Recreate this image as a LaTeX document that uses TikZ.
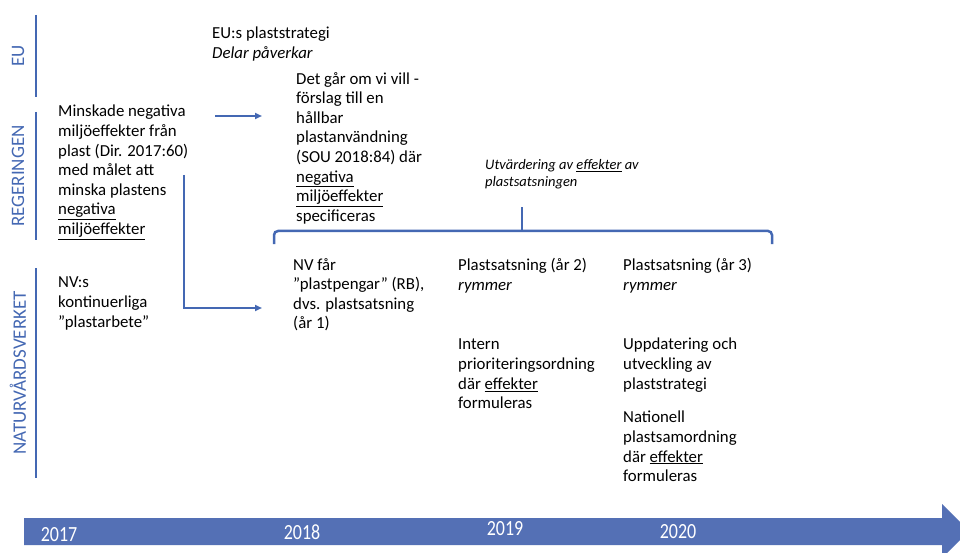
\documentclass[tikz,border=0pt]{standalone}
\usepackage{fontspec}
\setmainfont{Carlito}
\usetikzlibrary{arrows.meta}
\definecolor{lane}{RGB}{68,104,179}
\definecolor{barfill}{RGB}{84,112,181}
\begin{document}
\begin{tikzpicture}[x=1pt,y=-1pt,
  txt/.style={anchor=north west, inner sep=0pt, align=left, font=\fontsize{16.8}{19.6}\selectfont},
  itxt/.style={anchor=north west, inner sep=0pt, align=left, font=\fontsize{14.5}{17}\selectfont\itshape},
  lanelbl/.style={rotate=90, inner sep=0pt, text=lane, font=\fontsize{19}{20}\selectfont},
  laneline/.style={draw=lane, line width=2.5pt},
  conn/.style={draw=lane, line width=2.2pt, -{Triangle[length=7pt,width=6pt]}},
  yearlbl/.style={inner sep=0pt, text=white, font=\fontsize{18}{18}\selectfont}]
\useasboundingbox (0,0) rectangle (960,553);
\clip (0,0) rectangle (960,553);
\fill[white] (0,0) rectangle (960,553);

% lanes
\node[lanelbl] (eu) at (18,56) {EU};
\node[lanelbl] (reg) at (18,176) {REGERINGEN};
\node[lanelbl] (nv) at (18,373) {NATURVÅRDSVERKET};
\coordinate (eua) at (36,15); \coordinate (eub) at (36,97);
\coordinate (rega) at (36,112); \coordinate (regb) at (36,240);
\coordinate (nva) at (36,268); \coordinate (nvb) at (36,478);
\draw[laneline] (eua) -- (eub);
\draw[laneline] (rega) -- (regb);
\draw[laneline] (nva) -- (nvb);

% texts
\node[txt] (dir) at (58,105) {Minskade negativa\\miljöeffekter från\\plast (Dir. 2017:60)\\med målet att\\minska plastens\\\underline{negativa}\\\underline{miljöeffekter}};
\node[txt] (nvs) at (58,277) {NV:s\\kontinuerliga\\”plastarbete”};
\node[txt] (eus) at (212,27) {EU:s plaststrategi\\\textit{Delar påverkar}};
\node[txt] (sou) at (296,72) {Det går om vi vill -\\förslag till en\\hållbar\\plastanvändning\\(SOU 2018:84) där\\\underline{negativa}\\\underline{miljöeffekter}\\specificeras};
\node[itxt] (utv) at (485,159) {Utvärdering av \underline{effekter} av\\plastsatsningen};
\node[txt] (nvf) at (293,258) {NV får\\”plastpengar” (RB),\\dvs. plastsatsning\\(år 1)};
\node[txt] (ps2) at (458,258) {Plastsatsning (år 2)\\\textit{rymmer}};
\node[txt] (int) at (458,339) {Intern\\prioriteringsordning\\där \underline{effekter}\\formuleras};
\node[txt] (ps3) at (623,258) {Plastsatsning (år 3)\\\textit{rymmer}};
\node[txt] (upd) at (623,338) {Uppdatering och\\utveckling av\\plaststrategi};
\node[txt] (nat) at (623,411) {Nationell\\plastsamordning\\där \underline{effekter}\\formuleras};

% arrows
\coordinate (a1s) at (215,116); \coordinate (a1e) at (262,116);
\draw[conn] (a1s) -- (a1e);
\coordinate (a2s) at (184,175); \coordinate (a2e) at (262,308);
\draw[conn] (a2s) |- (a2e);

% bracket
\coordinate (bl) at (274,244); \coordinate (br) at (772,244);
\coordinate (bm) at (522,231); \coordinate (bt) at (522,207);
\draw[draw=lane, line width=2.5pt, rounded corners=4pt] (bl) -- (274,231) -- (772,231) -- (br);
\draw[draw=lane, line width=2.5pt] (bm) -- (bt);

% timeline
\fill[barfill] (24,518) -- (942,518) -- (942,504) -- (969,531) -- (942,558) -- (942,545) -- (24,545) -- cycle;
\node[yearlbl] (y17) at (59,535) {\scalebox{1}[1.2]{2017}};
\node[yearlbl] (y18) at (302,532) {\scalebox{1}[1.2]{2018}};
\node[yearlbl] (y19) at (505,529) {\scalebox{1}[1.2]{2019}};
\node[yearlbl] (y20) at (678,532) {\scalebox{1}[1.2]{2020}};
\end{tikzpicture}
\end{document}
